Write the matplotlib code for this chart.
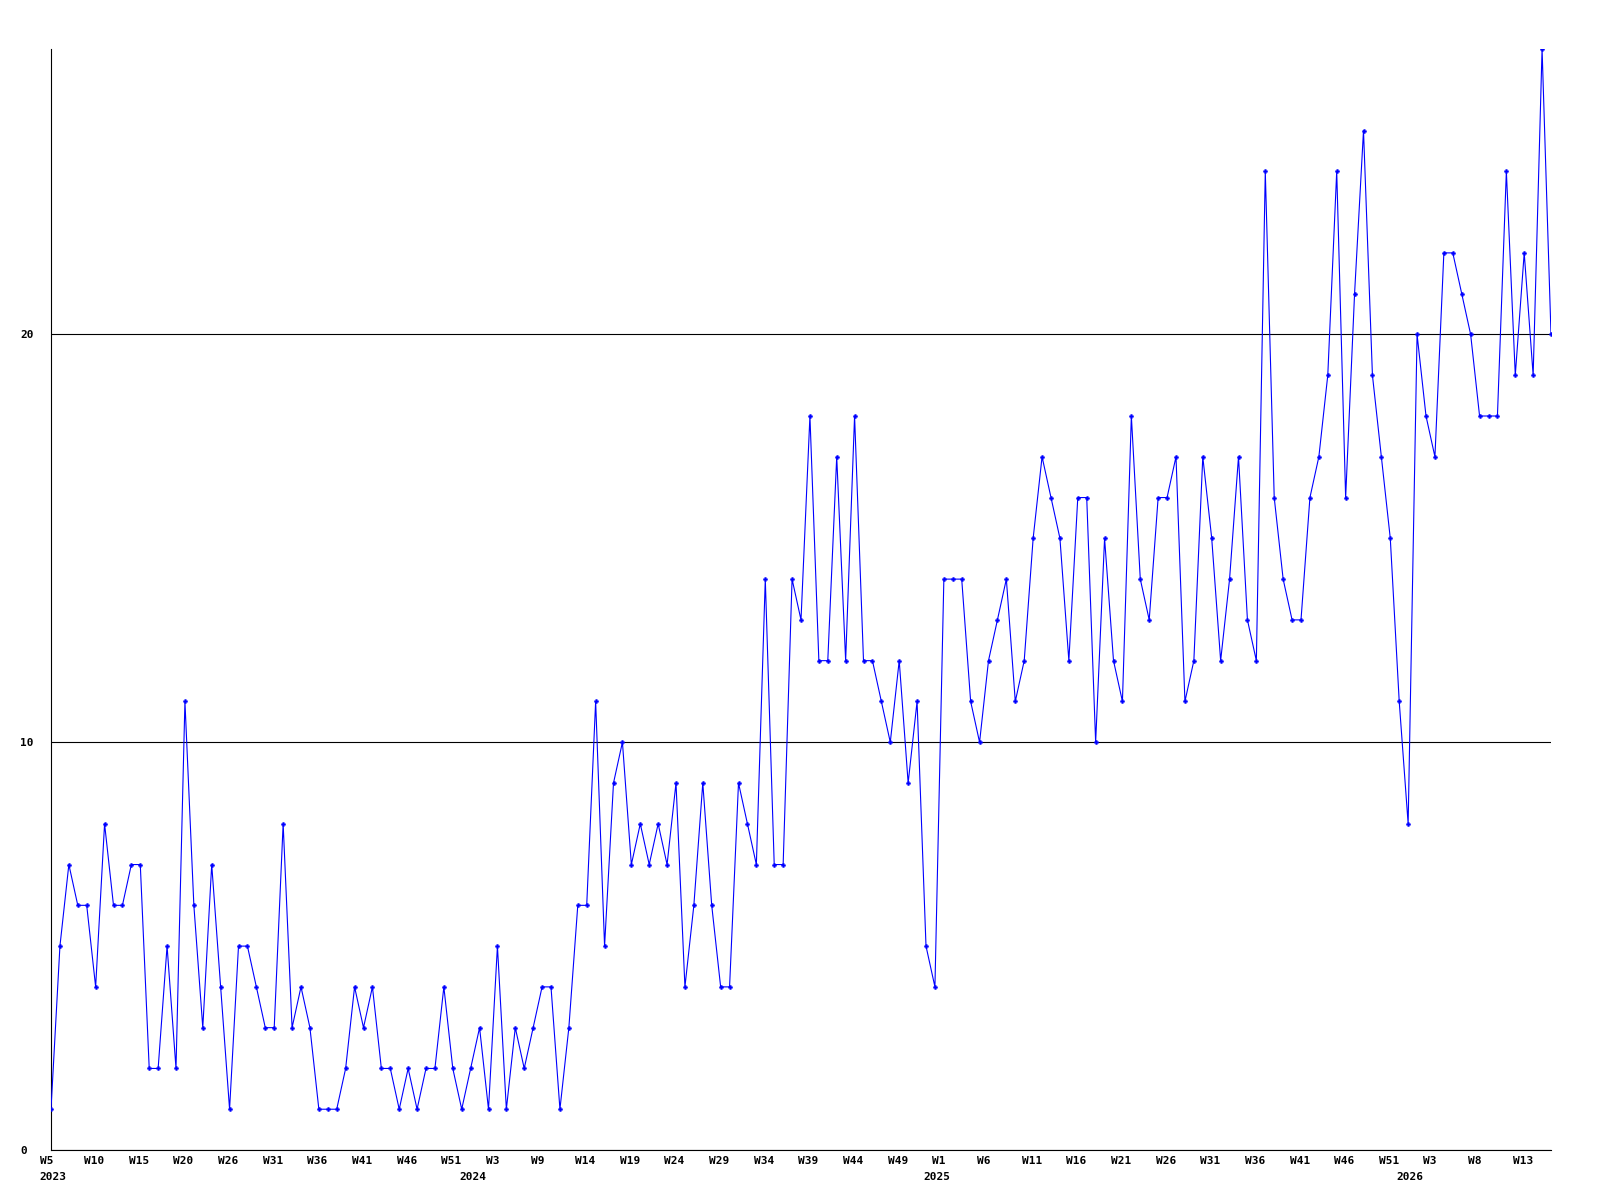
import matplotlib
matplotlib.use("Agg")
import matplotlib.pyplot as plt
import matplotlib.transforms as mtrans

# weekly counts, 2023 W5 .. 2026 W14
counts = [
    1, 5, 7, 6, 6, 4, 8, 6, 6, 7, 7, 2, 2, 5, 2, 11, 6, 3, 7, 4, 1, 5, 5, 4, 3, 3, 8, 3, 4, 3,
    1, 1, 1, 2, 4, 3, 4, 2, 2, 1, 2, 1, 2, 2, 4, 2, 1, 2, 3, 1, 5, 1, 3, 2, 3, 4, 4, 1, 3,
    6, 6, 11, 5, 9, 10, 7, 8, 7, 8, 7, 9, 4, 6, 9, 6, 4, 4, 9, 8, 7, 14, 7, 7, 14, 13, 18,
    12, 12, 17, 12, 18, 12, 12, 11, 10, 12, 9, 11, 5, 4, 14, 14, 14, 11, 10, 12, 13, 14, 11, 12, 15, 17, 16,
    15, 12, 16, 16, 10, 15, 12, 11, 18, 14, 13, 16, 16, 17, 11, 12, 17, 15, 12, 14, 17, 13, 12, 24, 16, 14, 13,
    13, 16, 17, 19, 24, 16, 21, 25, 19, 17, 15, 11, 8, 20, 18, 17, 22, 22, 21, 20, 18, 18, 18, 24, 19, 22,
    19, 27, 20,
]

week_labels = ["W5", "W10", "W15", "W20", "W26", "W31", "W36", "W41", "W46", "W51",
               "W3", "W9", "W14", "W19", "W24", "W29", "W34", "W39", "W44", "W49",
               "W1", "W6", "W11", "W16", "W21", "W26", "W31", "W36", "W41", "W46",
               "W51", "W3", "W8", "W13"]
week_pos = list(range(0, 5 * len(week_labels), 5))

years = ["2023", "2024", "2025", "2026"]
year_pos = [0, 47, 99, 152]

y_ticks = [0, 10, 20]

font = {"family": "DejaVu Sans Mono", "weight": "bold", "size": 8}

fig = plt.figure(figsize=(16, 12), dpi=100)
ax = fig.add_axes([51 / 1600, 50 / 1200, 1500 / 1600, 1101 / 1200])

x = list(range(len(counts)))
ax.plot(x, counts, color="#0000ff", lw=0.8, marker="P", ms=3,
        mec="#0000ff", mfc="#0000ff", mew=0.3, zorder=3)

ax.set_xlim(0, len(counts) - 1)
ax.set_ylim(0, 27)

for s in ["top", "right"]:
    ax.spines[s].set_visible(False)
for s in ["left", "bottom"]:
    ax.spines[s].set_color("black")
    ax.spines[s].set_linewidth(0.8)

ax.yaxis.grid(True, color="black", lw=0.8)
ax.set_axisbelow(True)

ax.set_xticks(week_pos, week_labels)
ax.set_yticks(y_ticks, [str(v) for v in y_ticks])
ax.tick_params(axis="both", length=0)
ax.tick_params(axis="x", pad=4)
ax.tick_params(axis="y", pad=0)

dx = mtrans.ScaledTranslation(-11.5 / 100, 0, fig.dpi_scale_trans)
for lab in ax.get_xticklabels():
    lab.set_ha("left")
    lab.set_fontproperties(font)
    lab.set_transform(lab.get_transform() + dx)

dy = mtrans.ScaledTranslation(-31 / 100, 0, fig.dpi_scale_trans)
for lab in ax.get_yticklabels():
    lab.set_ha("left")
    lab.set_fontproperties(font)
    lab.set_transform(lab.get_transform() + dy)

# year row under the week labels
yr_trans = mtrans.blended_transform_factory(ax.transData, ax.transAxes) + \
    mtrans.ScaledTranslation(-11.5 / 100, -22.5 / 100, fig.dpi_scale_trans)
for pos, yr in zip(year_pos, years):
    ax.text(pos, 0, yr, transform=yr_trans, ha="left", va="top", **font)

fig.savefig("out.png", dpi=100)
